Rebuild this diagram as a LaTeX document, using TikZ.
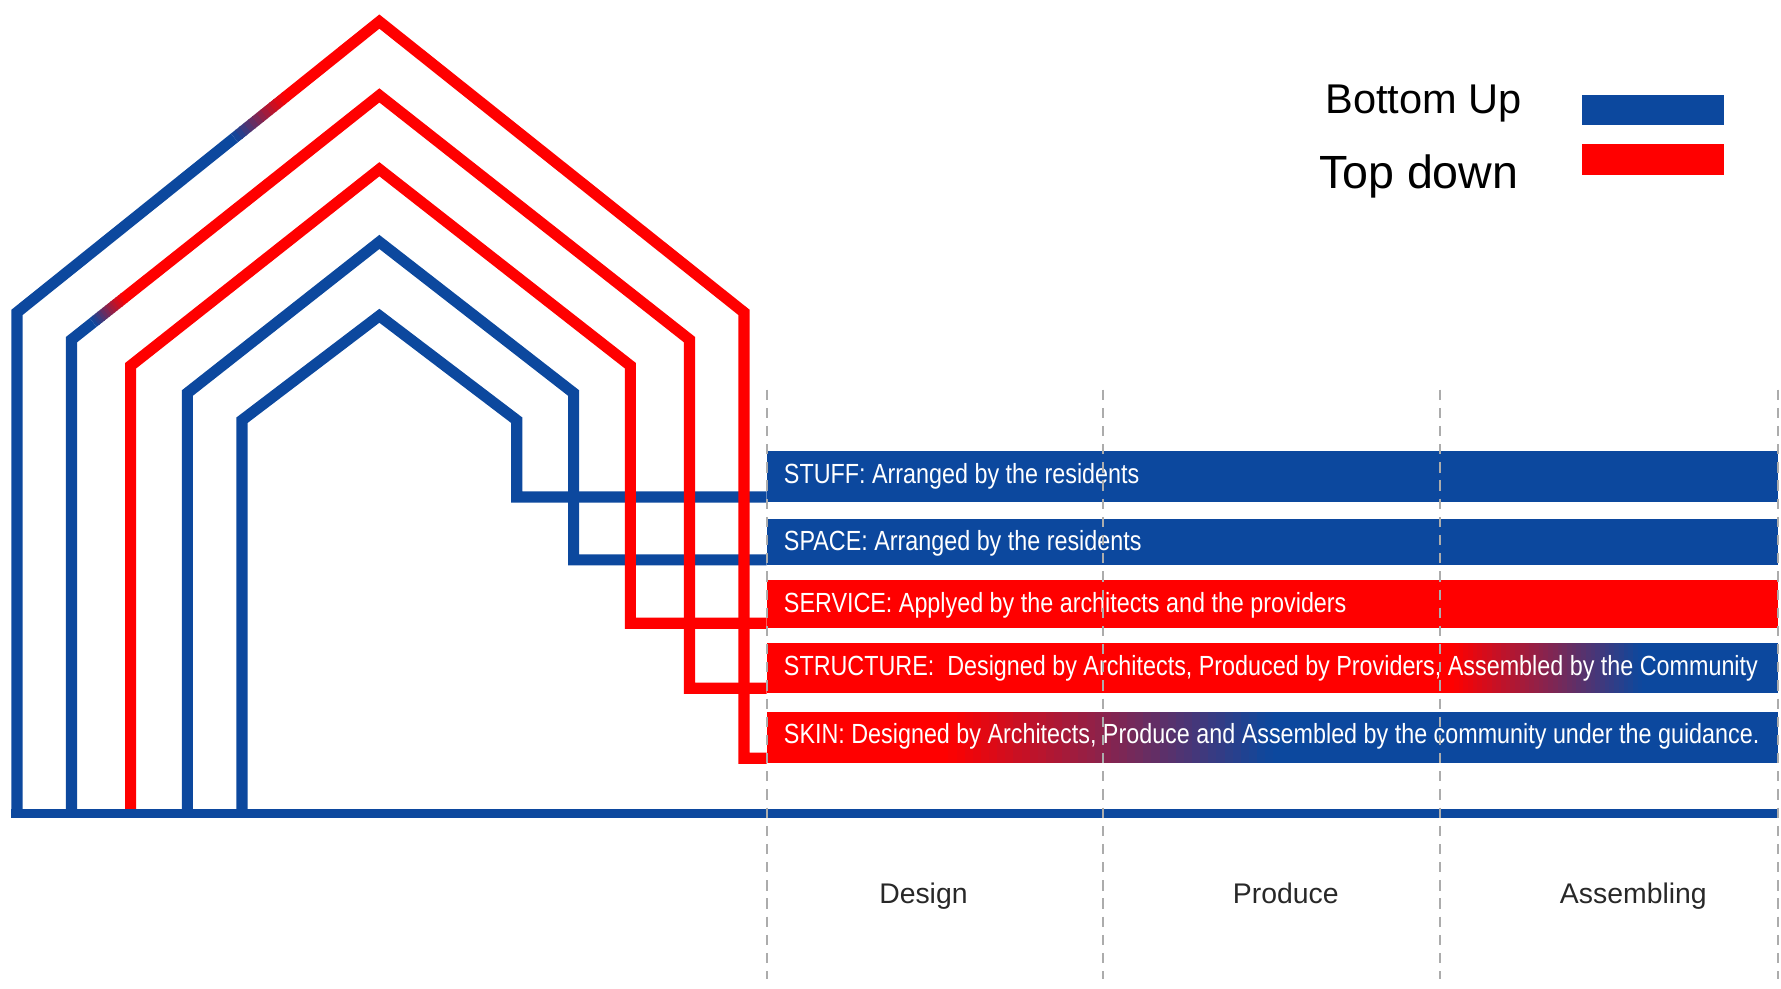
\documentclass[tikz,border=0pt]{standalone}
\usepackage{fontspec}
\setmainfont{Liberation Sans}
\usetikzlibrary{calc}
\definecolor{bblue}{RGB}{12,72,158}
\definecolor{rred}{RGB}{255,0,0}
\definecolor{dgray}{RGB}{40,40,40}
\newcommand{\sqz}[1]{\scalebox{0.842}[1]{#1}}
% gradient strip fill: x0, x1, ytop, ybottom
\newcommand{\gradfill}[4]{%
  \foreach \i in {0,...,39}{%
    \pgfmathsetmacro\xa{#1+\i*(#2-#1)/40}%
    \pgfmathsetmacro\xb{#1+(\i+1)*(#2-#1)/40+0.8}%
    \pgfmathtruncatemacro\p{100-100*(\i+0.5)/40}%
    \fill[rred!\p!bblue] (\xa,#3) rectangle (\xb,#4);
  }}
\tikzset{
  hline/.style={line width=9.8pt, line join=miter, line cap=butt},
  bar/.style={rectangle, inner sep=0pt, minimum width=890pt, anchor=north west},
  bartext/.style={anchor=base west, inner sep=0pt, text=white, font=\fontsize{24.4}{26}\selectfont},
  divider/.style={gray!65, line width=1.6pt, dash pattern=on 9pt off 7pt},
  phase/.style={anchor=base, inner sep=0pt, text=dgray, font=\fontsize{25}{27}\selectfont},
  legtext/.style={anchor=base east, inner sep=0pt, text=black},
  legbox/.style={rectangle, inner sep=0pt, minimum width=125pt, anchor=north west},
}
\begin{document}
\begin{tikzpicture}[x=1pt,y=-1pt]
\useasboundingbox (0,0) rectangle (1568,870);

% ---------- bar backgrounds ----------
\fill[rred] (675,510.7) rectangle (1565,553.2);
\fill[rred] (675,566.4) rectangle (1281,610.4);
\gradfill{1280}{1446}{566.4}{610.4}
\fill[bblue] (1446,566.4) rectangle (1565,610.4);
\fill[rred] (675,626.5) rectangle (836,672);
\gradfill{835}{1121}{626.5}{672}
\fill[bblue] (1121,626.5) rectangle (1565,672);

% ---------- bars (named) ----------
\node[bar, minimum height=45pt, fill=bblue] (stuff) at (675,397) {};
\node[bar, minimum height=41pt, fill=bblue] (space) at (675,456.4) {};
\node[bar, minimum height=42.5pt] (service) at (675,510.7) {};
\node[bar, minimum height=44pt] (structure) at (675,566.4) {};
\node[bar, minimum height=45.5pt] (skin) at (675,626.5) {};

% ---------- house lines ----------
\coordinate (p1) at (15,275);  \coordinate (q1) at (334,19);
\coordinate (p2) at (63,299);  \coordinate (q2) at (334,84);

% line 5 : STUFF
\draw[hline, bblue] (213,716) -- (213,370) -- (334,278) -- (455,370) |- ($(stuff.south west)+(0,-4.9)$);
% line 4 : SPACE
\draw[hline, bblue] (165,716) -- (165,346) -- (334,213) -- (505,346) |- ($(space.south west)+(0,-4.9)$);
% line 3 : SERVICE
\draw[hline, rred] (115,716) -- (115,322) -- (334,149) -- (555,322) |- ($(service.south west)+(0,-4.9)$);
% line 2 : STRUCTURE
\draw[hline, bblue] (63,716) -- (p2) -- ($(p2)!0.07!(q2)$);
\foreach \i in {0,...,11}{
  \pgfmathsetmacro\ta{0.07+\i*0.10/12}
  \pgfmathsetmacro\tb{0.07+(\i+1)*0.10/12+0.002}
  \pgfmathtruncatemacro\p{100*(\i+0.5)/12}
  \draw[hline, rred!\p!bblue] ($(p2)!\ta!(q2)$) -- ($(p2)!\tb!(q2)$);
}
\draw[hline, rred] ($(p2)!0.17!(q2)$) -- (q2) -- (607,299) |- ($(structure.south west)+(0,-4.9)$);
% line 1 : SKIN
\draw[hline, bblue] (15,716) -- (p1) -- ($(p1)!0.6!(q1)$);
\foreach \i in {0,...,11}{
  \pgfmathsetmacro\ta{0.6+\i*0.14/12}
  \pgfmathsetmacro\tb{0.6+(\i+1)*0.14/12+0.002}
  \pgfmathtruncatemacro\p{100*(\i+0.5)/12}
  \draw[hline, rred!\p!bblue] ($(p1)!\ta!(q1)$) -- ($(p1)!\tb!(q1)$);
}
\draw[hline, rred] ($(p1)!0.74!(q1)$) -- (q1) -- (655,275) |- ($(skin.south west)+(0,-4.9)$);

% base line
\coordinate (baseL) at (10.1,716);
\coordinate (baseR) at (1565,716);
\draw[line width=8pt, bblue] (baseL) -- (baseR);

% ---------- bar texts ----------
\node[bartext] (t1) at ($(stuff.north west)+(15,28.5)$) {\sqz{STUFF: Arranged by the residents}};
\node[bartext] (t2) at ($(space.north west)+(15,28.5)$) {\sqz{SPACE: Arranged by the residents}};
\node[bartext] (t3) at ($(service.north west)+(15,28.5)$) {\sqz{SERVICE: Applyed by the architects and the providers}};
\node[bartext] (t4) at ($(structure.north west)+(15,28.5)$) {\sqz{STRUCTURE:\ \ Designed by Architects, Produced by Providers, Assembled by the Community}};
\node[bartext] (t5) at ($(skin.north west)+(15,28.5)$) {\sqz{SKIN: Designed by Architects, Produce and Assembled by the community under the guidance.}};

% ---------- dividers ----------
\coordinate (d1t) at (675,343);  \coordinate (d1b) at (675,862);
\coordinate (d2t) at (971,343);  \coordinate (d2b) at (971,862);
\coordinate (d3t) at (1268,343); \coordinate (d3b) at (1268,862);
\coordinate (d4t) at (1565,343); \coordinate (d4b) at (1565,862);
\draw[divider] (d1t) -- (d1b);
\draw[divider] (d2t) -- (d2b);
\draw[divider] (d3t) -- (d3b);
\draw[divider] (d4t) -- (d4b);

% ---------- phase labels ----------
\node[phase] (design) at (813,795) {Design};
\node[phase] (produce) at (1132,795) {Produce};
\node[phase] (assembling) at (1438,795) {Assembling};

% ---------- legend ----------
\node[legtext, font=\fontsize{36.6}{38}\selectfont] (lbu) at (1340,100) {Bottom Up};
\node[legtext, font=\fontsize{41}{43}\selectfont] (ltd) at (1337,166) {Top down};
\node[legbox, minimum height=26.5pt, fill=bblue] (kbu) at (1393,83.6) {};
\node[legbox, minimum height=27pt, fill=rred] (ktd) at (1393,127) {};
\end{tikzpicture}
\end{document}
